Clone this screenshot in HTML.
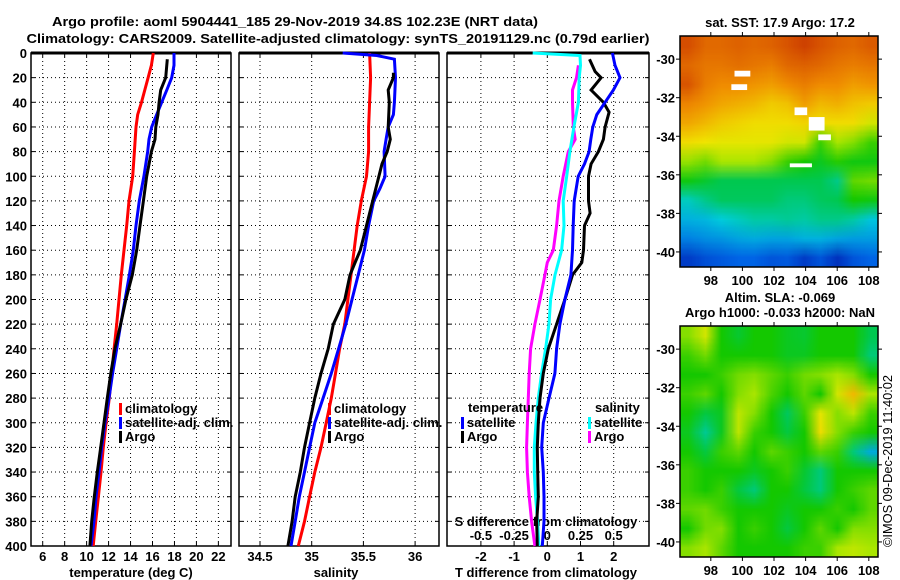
<!DOCTYPE html>
<html><head><meta charset="utf-8">
<style>
html,body{margin:0;padding:0;background:#fff;}
#wrap{position:relative;width:900px;height:580px;overflow:hidden;font-family:"Liberation Sans",sans-serif;}
svg text{font-family:"Liberation Sans",sans-serif;font-weight:bold;font-size:13px;fill:#000;}
canvas{position:absolute;}
</style></head>
<body>
<div id="wrap">
<canvas id="sstmap" width="198" height="231" style="left:680px;top:36px;width:198px;height:231px"></canvas>
<canvas id="slamap" width="198" height="231" style="left:680px;top:326px;width:198px;height:231px"></canvas>
<svg id="fig" width="900" height="580" style="position:absolute;left:0;top:0"></svg>
</div>
<script>
// ---------------- DATA ----------------
const depthTicks=[0,20,40,60,80,100,120,140,160,180,200,220,240,260,280,300,320,340,360,380,400];
const tempTicks=[6,8,10,12,14,16,18,20,22];
const salTicks=[34.5,35,35.5,36];
const tdiffTicks=[-2,-1,0,1,2];
const sdiffTicks=[-0.5,-0.25,0,0.25,0.5];
const lonTicks=[98,100,102,104,106,108];
const latTicks=[-30,-32,-34,-36,-38,-40];

const climTempDepth=[0,10,20,30,40,50,60,80,100,120,140,160,180,200,220,240,260,280,300,320,340,360,380,400];
const climTemp=[16.07,15.9,15.6,15.3,15.0,14.65,14.5,14.35,14.2,13.86,13.65,13.4,13.16,12.95,12.74,12.5,12.28,12.07,11.77,11.52,11.31,11.07,10.83,10.6];
const satTempDepth=[0,10,20,30,40,50,60,70,80,100,120,140,160,180,200,220,240,260,280,300,320,340,360,380,400];
const satTemp=[17.96,17.96,17.75,17.3,16.84,16.38,15.93,15.68,15.56,15.22,14.8,14.5,14.25,13.9,13.5,13.1,12.74,12.37,12.04,11.67,11.37,11.13,10.85,10.67,10.4];
const argoTempDepth=[5,20,30,40,50,60,70,80,100,120,140,160,180,200,220,240,260,280,300,320,340,360,380,400];
const argoTemp=[17.35,17.2,16.75,16.6,16.5,16.3,16.23,15.9,15.47,15.17,14.86,14.56,14.16,13.58,13.1,12.58,12.2,11.88,11.58,11.28,10.97,10.7,10.46,10.3];

const climSalDepth=[0,20,40,60,80,100,120,140,160,180,200,220,240,260,280,300,320,340,360,380,400];
const climSal=[35.56,35.57,35.56,35.55,35.55,35.53,35.48,35.44,35.41,35.38,35.35,35.32,35.27,35.23,35.19,35.14,35.09,35.03,34.98,34.93,34.87];
const satSalDepth=[0,2,5,20,40,50,60,70,80,100,110,120,140,160,180,200,220,240,260,280,300,320,340,360,380,400];
const satSal=[35.3,35.63,35.8,35.81,35.8,35.79,35.74,35.72,35.7,35.71,35.66,35.6,35.55,35.51,35.45,35.39,35.33,35.26,35.19,35.11,35.03,34.98,34.93,34.88,34.84,34.8];
const argoSalDepth=[16,20,30,40,60,70,80,90,100,120,140,160,170,180,200,220,240,260,280,300,320,340,360,380,400];
const argoSal=[35.79,35.79,35.74,35.75,35.74,35.76,35.73,35.68,35.65,35.59,35.53,35.47,35.42,35.37,35.32,35.21,35.16,35.09,35.03,34.98,34.93,34.89,34.84,34.81,34.77];

const satTdiffDepth=[0,10,20,30,40,50,60,70,80,90,100,120,140,160,180,200,220,240,260,280,300,320,340,360,380,400];
const satTdiff=[1.96,2.04,2.19,1.99,1.74,1.49,1.37,1.31,1.26,1.12,0.93,0.81,0.78,0.76,0.71,0.53,0.38,0.28,0.23,0.05,-0.12,-0.17,-0.12,-0.1,-0.1,-0.15];
const argoTdiffDepth=[5,15,20,30,40,48,60,70,80,90,100,120,130,140,160,170,180,200,220,240,260,280,300,320,340,360,380,400];
const argoTdiff=[1.27,1.44,1.62,1.32,1.69,1.86,1.74,1.69,1.54,1.32,1.24,1.24,1.29,1.12,1.09,1.04,0.76,0.53,0.28,0.03,-0.12,-0.22,-0.27,-0.3,-0.29,-0.27,-0.32,-0.3];
const satSdiffDepth=[0,2,10,20,40,60,80,100,120,140,160,180,200,220,240,260,280,300,320,340,360,380,400];
const satSdiff=[-0.11,0.246,0.25,0.24,0.234,0.2,0.17,0.146,0.12,0.126,0.108,0.058,0.025,0.013,-0.013,-0.043,-0.068,-0.085,-0.098,-0.098,-0.088,-0.073,-0.063];
const argoSdiffDepth=[10,20,30,40,60,70,80,100,120,140,160,170,180,200,220,240,260,280,300,320,340,360,380,400];
const argoSdiff=[0.234,0.22,0.19,0.19,0.196,0.21,0.158,0.12,0.088,0.07,0.045,0,-0.018,-0.055,-0.093,-0.126,-0.136,-0.143,-0.15,-0.156,-0.15,-0.136,-0.118,-0.093];

// map grids (rows lat -29..-40, cols lon 96.5..107.5), normalized colour values 0..1
const sstGrid=[
[.84,.8,.8,.81,.8,.81,.83,.86,.83,.81,.8,.82],
[.8,.78,.78,.79,.78,.77,.8,.81,.8,.78,.77,.78],
[.83,.77,.75,.75,.74,.73,.75,.77,.75,.75,.73,.74],
[.76,.74,.72,.71,.7,.68,.69,.73,.7,.71,.69,.68],
[.72,.7,.68,.67,.66,.66,.66,.67,.66,.66,.66,.62],
[.66,.65,.64,.64,.64,.64,.62,.62,.52,.58,.56,.52],
[.57,.55,.58,.58,.58,.56,.52,.5,.48,.51,.49,.49],
[.49,.47,.45,.45,.45,.45,.45,.45,.45,.41,.54,.55],
[.37,.41,.44,.44,.44,.44,.42,.42,.44,.45,.5,.49],
[.31,.32,.35,.37,.39,.39,.4,.39,.41,.41,.39,.34],
[.24,.26,.27,.29,.3,.29,.29,.31,.31,.29,.28,.28],
[.12,.16,.18,.2,.2,.17,.18,.12,.17,.1,.17,.2]];
const slaGrid=[
[.56,.62,.5,.47,.5,.5,.48,.47,.5,.5,.5,.45],
[.52,.55,.5,.5,.5,.5,.48,.48,.5,.5,.5,.42],
[.5,.5,.52,.55,.56,.54,.52,.55,.56,.58,.56,.5],
[.52,.54,.5,.56,.58,.53,.5,.54,.5,.62,.7,.58],
[.5,.46,.48,.6,.56,.5,.44,.52,.64,.56,.6,.52],
[.48,.4,.48,.6,.52,.5,.46,.5,.66,.56,.52,.5],
[.5,.46,.52,.54,.5,.54,.52,.5,.54,.52,.42,.3],
[.52,.5,.5,.5,.48,.5,.52,.47,.42,.5,.5,.5],
[.52,.5,.52,.46,.42,.5,.5,.46,.42,.5,.52,.54],
[.54,.55,.52,.5,.5,.5,.48,.5,.5,.52,.5,.54],
[.5,.55,.56,.5,.52,.5,.46,.5,.54,.5,.56,.56],
[.56,.58,.54,.5,.5,.5,.5,.52,.52,.58,.6,.58]];

// ---------------- HELPERS ----------------
const NS="http://www.w3.org/2000/svg";
const svg=document.getElementById('fig');
function mk(tag,attrs,parent){const e=document.createElementNS(NS,tag);for(const k in attrs)e.setAttribute(k,attrs[k]);(parent||svg).appendChild(e);return e;}
const Y0=53,Y1=546;
const yD=d=>Y0+(Y1-Y0)*d/400;
const xT=t=>42.7+(t-6)*10.98;
const xS=s=>260+(s-34.5)*103.4;
const xTd=v=>547.3+v*33.2;
const xSd=v=>547.3+v*132.8;
const panels=[{x0:31,x1:231,name:'temperature-panel'},{x0:239,x1:439,name:'salinity-panel'},{x0:447,x1:649,name:'difference-panel'}];

function text(x,y,s,anchor,extra){const t=mk('text',Object.assign({x,y,'text-anchor':anchor||'middle'},extra||{}));t.textContent=s;return t;}
function series(xs,ds,xf,color,name){
  const pts=xs.map((v,i)=>xf(v).toFixed(1)+','+yD(ds[i]).toFixed(1)).join(' ');
  const p=mk('polyline',{points:pts,fill:'none',stroke:color,'stroke-width':3,'stroke-linejoin':'miter'});
  
  
}

// title
const t1=text(295,26,'Argo profile: aoml 5904441_185 29-Nov-2019 34.8S 102.23E (NRT data)','middle',{'font-size':'15px',textLength:486,lengthAdjust:'spacingAndGlyphs'});

const t2=text(338,43,'Climatology: CARS2009. Satellite-adjusted climatology: synTS_20191129.nc (0.79d earlier)','middle',{'font-size':'15px',textLength:623,lengthAdjust:'spacingAndGlyphs'});


// panel frames & grid
const gridX=[tempTicks.map(xT),salTicks.map(xS),tdiffTicks.map(xTd)];
panels.forEach((p,i)=>{
  const g=mk('g',{});
  
  depthTicks.forEach(d=>{ if(d>0&&d<400) mk('line',{x1:p.x0,y1:yD(d),x2:p.x1,y2:yD(d),stroke:'#000','stroke-width':1,'stroke-dasharray':'1,3'},g);});
  gridX[i].forEach(x=>{ mk('line',{x1:x,y1:Y0,x2:x,y2:Y1,stroke:'#000','stroke-width':1,'stroke-dasharray':'1,3'},g);
    mk('line',{x1:x,y1:Y1,x2:x,y2:Y1-4,stroke:'#000'},g); mk('line',{x1:x,y1:Y0,x2:x,y2:Y0+4,stroke:'#000'},g);});
  depthTicks.forEach(d=>{ mk('line',{x1:p.x0,y1:yD(d),x2:p.x0+4,y2:yD(d),stroke:'#000'},g); mk('line',{x1:p.x1,y1:yD(d),x2:p.x1-4,y2:yD(d),stroke:'#000'},g);});
  mk('rect',{x:p.x0,y:Y0,width:p.x1-p.x0,height:Y1-Y0,fill:'none',stroke:'#000','stroke-width':1.5},g);
  mk('line',{x1:p.x0,y1:Y0,x2:p.x1,y2:Y0,stroke:'#000','stroke-width':3},g);
});
// tick labels
depthTicks.forEach(d=>{const t=text(27,yD(d)+5,String(d),'end');});
tempTicks.forEach(v=>{const t=text(xT(v),561,String(v));});
salTicks.forEach(v=>{const t=text(xS(v),561,String(v));});
tdiffTicks.forEach(v=>{const t=text(xTd(v),561,String(v));});
sdiffTicks.forEach(v=>{const t=text(xSd(v),540,String(v));});
let at=text(131,577,'temperature (deg C)');
at=text(336,577,'salinity');
at=text(546,577,'T difference from climatology');
at=text(546,526,'S difference from climatology');

// series
series(climTemp,climTempDepth,xT,'#f00','temp-climatology-line');
series(satTemp,satTempDepth,xT,'#00f','temp-satellite-line');
series(argoTemp,argoTempDepth,xT,'#000','temp-argo-line');
series(climSal,climSalDepth,xS,'#f00','sal-climatology-line');
series(satSal,satSalDepth,xS,'#00f','sal-satellite-line');
series(argoSal,argoSalDepth,xS,'#000','sal-argo-line');
series(argoSdiff,argoSdiffDepth,xSd,'#f0f','sdiff-argo-line');
series(satSdiff,satSdiffDepth,xSd,'#0ff','sdiff-satellite-line');
series(argoTdiff,argoTdiffDepth,xTd,'#000','tdiff-argo-line');
series(satTdiff,satTdiffDepth,xTd,'#00f','tdiff-satellite-line');

// legends
function legend(x,y,color,label,name){
  const g=mk('g',{});
  mk('rect',{x:x,y:y-10,width:3,height:12,fill:color},g);
  const t=mk('text',{x:x+6,y:y,'text-anchor':'start'},g);t.textContent=label;
}
legend(119,413,'#f00','climatology','legend-climatology');
legend(119,427,'#00f','satellite-adj. clim.','legend-satellite');
legend(119,441,'#000','Argo','legend-argo');
legend(328,413,'#f00','climatology','legend-sal-climatology');
legend(328,427,'#00f','satellite-adj. clim.','legend-sal-satellite');
legend(328,441,'#000','Argo','legend-sal-argo');
let lt=text(468,412,'temperature','start');
legend(461,427,'#00f','satellite','legend-tdiff-satellite');
legend(461,441,'#000','Argo','legend-tdiff-argo');
lt=text(595,412,'salinity','start');
legend(588,427,'#0ff','satellite','legend-sdiff-satellite');
legend(588,441,'#f0f','Argo','legend-sdiff-argo');

// ---------------- MAPS ----------------
const MX0=680,MX1=878;
const lonX=l=>MX0+(l-96.05)*15.8;
const cmapStops=[[0,0,0,150],[.2,0,100,230],[.35,0,205,220],[.45,0,200,80],[.5,20,200,0],[.58,170,230,0],[.65,240,230,0],[.75,240,140,0],[.85,210,70,0],[1,150,0,0]];
function cmap(v){
  for(let i=1;i<cmapStops.length;i++){const a=cmapStops[i-1],b=cmapStops[i];
    if(v<=b[0]){const f=(v-a[0])/(b[0]-a[0]);return [a[1]+f*(b[1]-a[1]),a[2]+f*(b[2]-a[2]),a[3]+f*(b[3]-a[3])];}}
  const l=cmapStops[cmapStops.length-1];return [l[1],l[2],l[3]];
}
function drawMap(id,grid,smooth){
  const c=document.getElementById(id),ctx=c.getContext('2d');
  const rows=grid.length,cols=grid[0].length;
  const off=document.createElement('canvas');off.width=cols;off.height=rows;
  const octx=off.getContext('2d');const img=octx.createImageData(cols,rows);
  grid.forEach((row,r)=>row.forEach((v,k)=>{const [R,G,B]=cmap(v);const i=(r*cols+k)*4;img.data[i]=R;img.data[i+1]=G;img.data[i+2]=B;img.data[i+3]=255;}));
  octx.putImageData(img,0,0);
  ctx.imageSmoothingEnabled=smooth;
  ctx.drawImage(off,0,0,cols,rows,0,0,c.width,c.height);
}
drawMap('sstmap',sstGrid,true);
drawMap('slamap',slaGrid,true);
// white gaps in SST map
[[99.5,-30.6,1,0.3],[99.3,-31.3,1,0.3],[103.3,-32.5,0.8,0.4],[104.2,-33,1,0.7],[104.8,-33.9,0.8,0.3],[103,-35.4,1.4,0.2]].forEach(g=>{
  const r=mk('rect',{x:lonX(g[0]),y:36+(-28.8-g[1])*19.3,width:g[2]*15.8,height:g[3]*19.3,fill:'#fff'});
  
});
[{top:36,name:'sst'},{top:326,name:'sla'}].forEach(m=>{
  const latY=l=>m.top+(-28.8-l)*19.28;
  const g=mk('g',{});
  mk('rect',{x:MX0,y:m.top,width:MX1-MX0,height:231,fill:'none',stroke:'#000','stroke-width':1.5},g);
  lonTicks.forEach(l=>{mk('line',{x1:lonX(l),y1:m.top,x2:lonX(l),y2:m.top-4,stroke:'#000'},g);mk('line',{x1:lonX(l),y1:m.top+231,x2:lonX(l),y2:m.top+235,stroke:'#000'},g);
    const t=mk('text',{x:lonX(l),y:m.top+249,'text-anchor':'middle'},g);t.textContent=String(l);});
  latTicks.forEach(l=>{mk('line',{x1:MX0,y1:latY(l),x2:MX0-4,y2:latY(l),stroke:'#000'},g);mk('line',{x1:MX1,y1:latY(l),x2:MX1+4,y2:latY(l),stroke:'#000'},g);
    const t=mk('text',{x:675,y:latY(l)+5,'text-anchor':'end'},g);t.textContent=String(l);});
});
let mt=text(780,27,'sat. SST: 17.9 Argo: 17.2');
mt=text(780,302,'Altim. SLA: -0.069');
mt=text(780,317,'Argo h1000: -0.033 h2000: NaN');
const cp=mk('text',{x:0,y:0,transform:'translate(892,547) rotate(-90)','text-anchor':'start',textLength:172,lengthAdjust:'spacingAndGlyphs',style:'font-weight:normal;font-size:13px'});
cp.textContent='©IMOS 09-Dec-2019 11:40:02';

</script>
</body></html>
